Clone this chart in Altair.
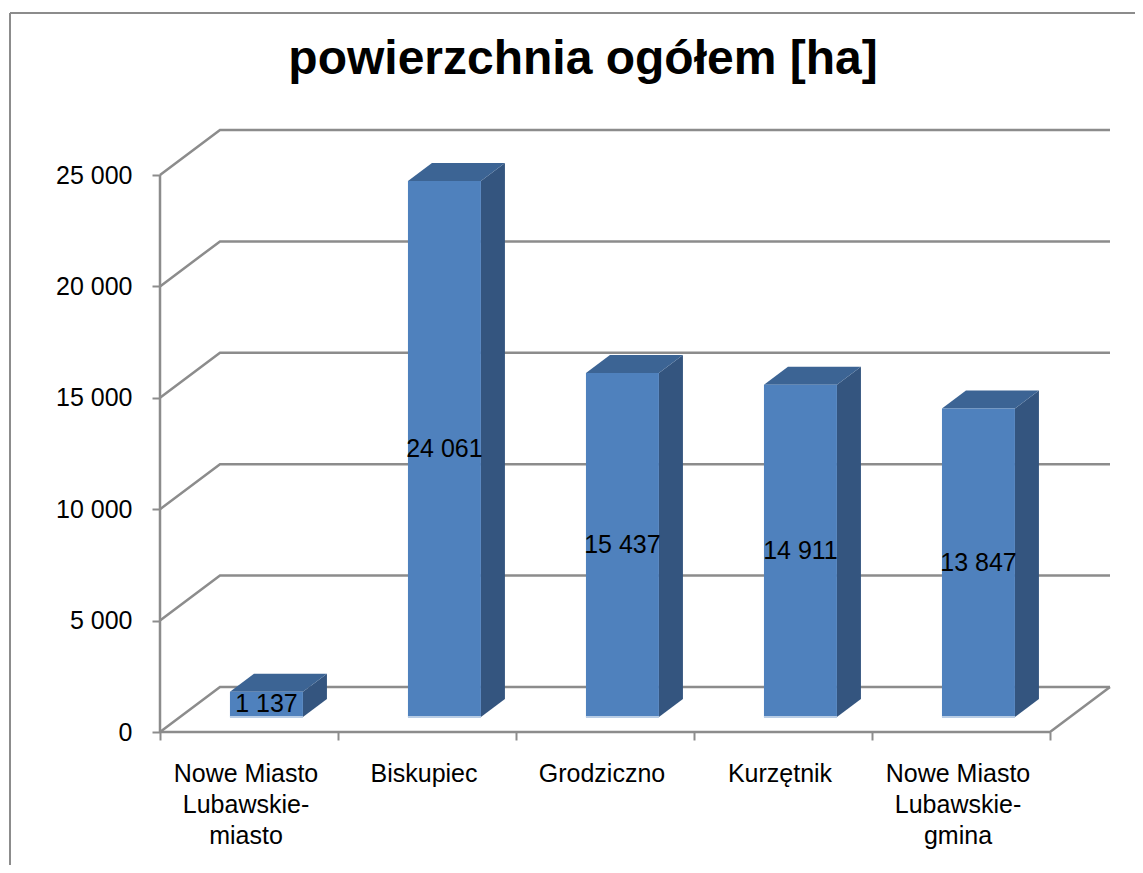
import altair as alt
import pandas as pd

# ---- data ----
categories = ["Nowe Miasto\nLubawskie-\nmiasto", "Biskupiec", "Grodziczno", "Kurzętnik",
              "Nowe Miasto\nLubawskie-\ngmina"]
values = [1137, 24061, 15437, 14911, 13847]
y_ticks = [0, 5000, 10000, 15000, 20000, 25000]
title_text = "powierzchnia ogółem [ha]"

# ---- 3D projection constants (in data units) ----
DX = 0.337      # full floor depth, horizontal (category units)
DY = 2020       # full floor depth, vertical (value units)
FRONT = 1 / 3   # depth at which bar front faces sit
BDEPTH = 0.40   # bar depth as fraction of the floor depth
BX0, BX1 = 0.393, 0.803   # front face span within a category (incl. depth shift)
n = len(categories)
base = FRONT * DY
sdx, sdy = BDEPTH * DX, BDEPTH * DY

FONT = "Liberation Sans"
GRID = "#8C8C8C"

# ---- derived tables ----
bars = pd.DataFrame({
    "cat": categories,
    "v": values,
    "x0": [i + BX0 for i in range(n)],
    "x1": [i + BX1 for i in range(n)],
})
bars["y0"] = base
bars["y1"] = bars["v"] + base
bars["xm"] = (bars["x0"] + bars["x1"]) / 2
bars["ym"] = base + bars["v"] / 2
bars["lab"] = [f"{v:,}".replace(",", " ") for v in values]

side_rows, top_rows = [], []
for i, v in enumerate(values):
    x1 = i + BX1
    x0 = i + BX0
    side_rows += [
        {"cat": i, "x": x1, "y": v + base, "y2": base},
        {"cat": i, "x": x1 + sdx, "y": v + base + sdy, "y2": base + sdy},
    ]
    top_rows += [
        {"cat": i, "y": v + base, "x": x0, "x2": x1},
        {"cat": i, "y": v + base + sdy, "x": x0 + sdx, "x2": x1 + sdx},
    ]
side = pd.DataFrame(side_rows)
top = pd.DataFrame(top_rows)

grid_rows = []
for t in y_ticks:
    pts = [(0, t), (DX, t + DY), (n + DX, t + DY)]
    for k, (x, y) in enumerate(pts):
        grid_rows.append({"seg": f"g{t}", "o": k, "x": x, "y": y})
for k, (x, y) in enumerate([(0, 0), (n, 0), (n + DX, DY)]):
    grid_rows.append({"seg": "floor", "o": k, "x": x, "y": y})
grid = pd.DataFrame(grid_rows)

axis_line = pd.DataFrame({"x": [0], "y": [0], "y2": [max(y_ticks)]})
cats = pd.DataFrame({"cat": categories, "xc": [i + 0.5 for i in range(n)], "y": [0] * n})

xscale = alt.Scale(domain=[0, n + DX], nice=False, zero=False)
yscale = alt.Scale(domain=[0, max(y_ticks) + DY], nice=False, zero=False)

X = lambda f: alt.X(f, type="quantitative", scale=xscale,
                    axis=alt.Axis(values=list(range(n + 1)), labels=False, ticks=True,
                                  tickSize=8, tickWidth=2, tickColor=GRID,
                                  domain=False, grid=False, title=None))
Y = lambda f: alt.Y(f, type="quantitative", scale=yscale,
                    axis=alt.Axis(values=y_ticks, labelFontSize=25, labelFont=FONT,
                                  labelColor="black", tickSize=8, tickWidth=2,
                                  tickColor=GRID, domain=False, grid=False, title=None,
                                  labelPadding=20,
                                  labelExpr="replace(format(datum.value, ','), ',', ' ')"))

gridlines = alt.Chart(grid).mark_line(color=GRID, strokeWidth=2.5).encode(
    x=X("x"), y=Y("y"), detail="seg:N", order="o:Q")

yline = alt.Chart(axis_line).mark_rule(color=GRID, strokeWidth=2.5).encode(
    x=X("x"), y=Y("y"), y2="y2")

front = alt.Chart(bars).mark_rect(color="#4F81BD").encode(
    x=X("x0"), x2="x1", y=Y("y0"), y2="y1")

bottom_edge = alt.Chart(bars).mark_rule(color="#B9CDE5", strokeWidth=2).encode(
    x=X("x0"), x2="x1", y=Y("y0"))

side_face = alt.Chart(side).mark_area(color="#34557F", orient="vertical").encode(
    x=X("x"), y=Y("y"), y2="y2", detail="cat:N")

top_face = alt.Chart(top).mark_area(color="#3C6494", orient="horizontal").encode(
    y=Y("y"), x=X("x"), x2="x2", detail="cat:N")

labels = alt.Chart(bars).mark_text(font=FONT, fontSize=25, color="black",
                                   baseline="middle", align="center").encode(
    x=X("xm"), y=Y("ym"), text="lab:N")

cat_labels = alt.Chart(cats).mark_text(font=FONT, fontSize=25, color="black",
                                       baseline="top", align="center", dy=30, dx=-3,
                                       lineBreak="\n", lineHeight=31).encode(
    x=X("xc"), y=Y("y"), text="cat:N")

border = alt.Chart(pd.DataFrame({"k": [0]})).mark_rule(color="#8C8C8C", strokeWidth=2).encode(
    x=alt.value(-150), y=alt.value(-117), y2=alt.value(760))
border_top = alt.Chart(pd.DataFrame({"k": [0]})).mark_rule(color="#8C8C8C", strokeWidth=2).encode(
    x=alt.value(-150), x2=alt.value(990), y=alt.value(-117))

chart = alt.layer(
    border, border_top, gridlines, yline, side_face, top_face, front, bottom_edge,
    labels, cat_labels
).properties(
    width=950, height=602,
    title=alt.TitleParams(title_text, font=FONT, fontSize=48, fontWeight="bold",
                          color="black", anchor="middle", frame="group", dx=-52,
                          baseline="alphabetic", offset=-110),
    autosize=alt.AutoSizeParams(type="none"),
    padding={"left": 152, "top": 122, "right": 25, "bottom": 133},
).configure(background="white", view=alt.ViewConfig(stroke=None))

chart.save("out.html", embed_options={"renderer": "svg", "actions": False})
